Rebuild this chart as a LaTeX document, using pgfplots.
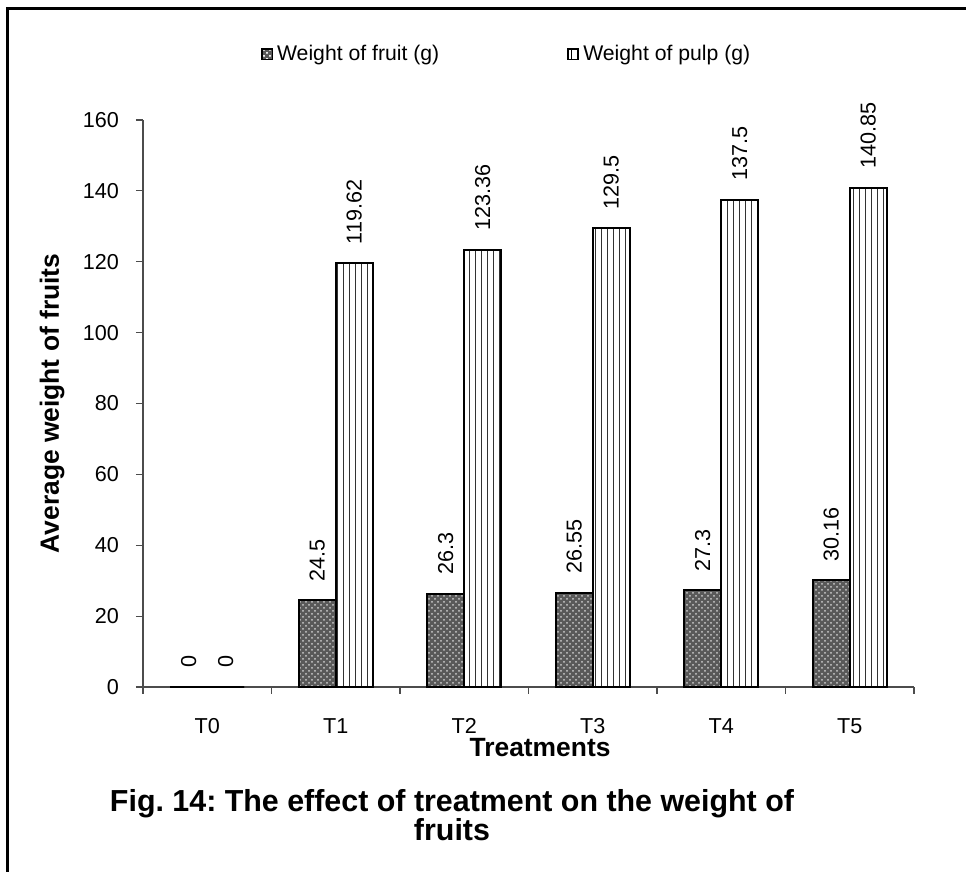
\documentclass[border=0pt]{standalone}
\usepackage{fontspec}
\setmainfont{Liberation Sans}
\setsansfont{Liberation Sans}
\usepackage{pgfplots}
\pgfplotsset{compat=1.18}
\usetikzlibrary{patterns}
\frenchspacing
\begin{document}
\begin{tikzpicture}
\useasboundingbox (0,0) rectangle (483pt,436pt);
\draw[line width=1.5pt] (3.5pt,-1pt) -- (3.5pt,431.5pt) -- (484pt,431.5pt);
\begin{axis}[
  at={(71.5pt,92.5pt)}, anchor=south west,
  scale only axis, width=385.5pt, height=283.5pt,
  ybar=0pt, bar width=18.5pt,
  xmin=-0.5, xmax=5.5, ymin=0, ymax=160,
  ytick={0,20,...,160},
  xtick={0,...,5}, xticklabels={T0,T1,T2,T3,T4,T5},
  minor xtick={-0.5,0.5,...,5.5},
  major x tick style={draw=none},
  tick align=outside, major tick length=3.5pt, minor tick length=3.5pt,
  tick style={black!70, line width=0.6pt},
  axis lines*=left, axis line style={-, black!70, line width=0.6pt},
  /pgf/number format/assume math mode=true,
  ticklabel style={font=\fontsize{10.8}{12}\selectfont},
  yticklabel style={xshift=-5pt},
  xticklabel style={yshift=-8pt, text height=8pt, text depth=1pt, anchor=north},
  xlabel={\textbf{Treatments}},
  ylabel={\textbf{Average weight of fruits}},
  label style={font=\fontsize{13.2}{15}\selectfont},
  x label style={at={(axis description cs:0.515,0)}, anchor=center, yshift=-30.5pt},
  y label style={at={(axis description cs:-0.118,0.5)}, anchor=center},
  legend style={at={(axis description cs:0.473,1.116)}, anchor=center, draw=none,
    font=\fontsize{10.6}{12}\selectfont, legend columns=2,
    /tikz/every even column/.append style={column sep=62pt}},
  clip=false,
  point meta=explicit symbolic,
  nodes near coords,
  nodes near coords style={rotate=90, anchor=west, inner xsep=9pt, font=\fontsize{10.8}{12}\selectfont},
]
\addplot[draw=black, line width=1pt, fill=black!65,
  postaction={pattern=crosshatch dots, pattern color=white!80!black},
  legend image code/.code={\draw[draw=black, line width=0.8pt, fill=black!65, postaction={pattern=crosshatch dots, pattern color=white}] (0pt,-2.6pt) rectangle (5.2pt,2.6pt);}]
coordinates {(0,0) [0] (1,24.5) [24.5] (2,26.3) [26.3] (3,26.55) [26.55] (4,27.3) [27.3] (5,30.16) [30.16]};
\addlegendentry{Weight of fruit (g)}
\addplot[draw=black, line width=1pt, fill=white,
  postaction={pattern=vertical lines, pattern color=black!80},
  legend image code/.code={\draw[draw=black, line width=0.8pt, fill=white, postaction={pattern=vertical lines}] (0pt,-2.6pt) rectangle (5.2pt,2.6pt);}]
coordinates {(0,0) [0] (1,119.62) [119.62] (2,123.36) [123.36] (3,129.5) [129.5] (4,137.5) [137.5] (5,140.85) [140.85]};
\addlegendentry{Weight of pulp (g)}
\end{axis}
\node[font=\bfseries\fontsize{15.2}{14.5}\selectfont, align=center] at (226pt,28.25pt)
  {Fig. 14: The effect of treatment on the weight of\\fruits};
\end{tikzpicture}
\end{document}
